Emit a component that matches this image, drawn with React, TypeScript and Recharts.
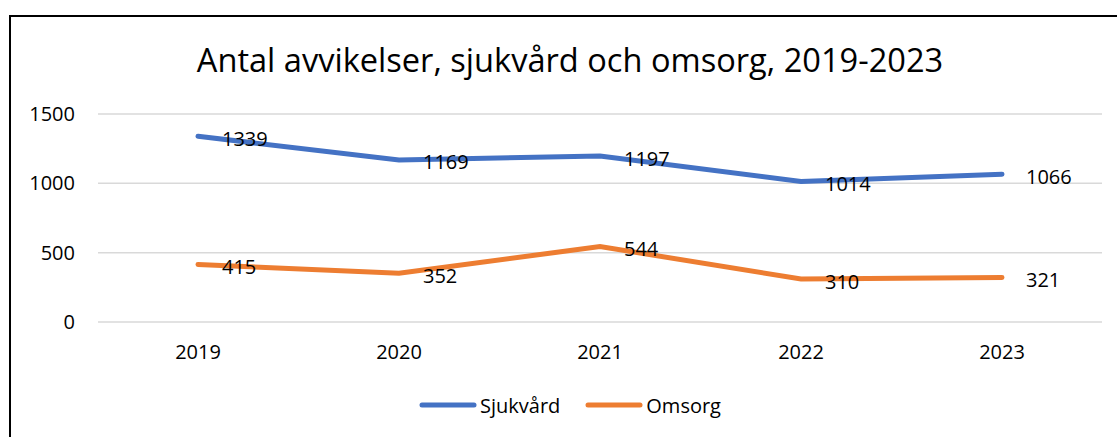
import React from "react"
import { LineChart, Line, XAxis, YAxis, CartesianGrid, Legend, LabelList } from "recharts"

const years = ["2019", "2020", "2021", "2022", "2023"]
const sjukvard = [1339, 1169, 1197, 1014, 1066]
const omsorg = [415, 352, 544, 310, 321]
const yTicks = [0, 500, 1000, 1500]
const seriesOrder = ["Sjukvård", "Omsorg"]

const data = years.map((year, i) => ({
  year,
  Sjukvård: sjukvard[i],
  Omsorg: omsorg[i],
}))

const font = "'Open Sans', 'Noto Sans', sans-serif"

const ValueLabel = (props: any) => {
  const { x, y, value } = props
  return (
    <text x={x + 24} y={y + 2} dominantBaseline="central" textAnchor="start" fontSize={20} fill="#000" fontFamily={font}>
      {value}
    </text>
  )
}

const LegendContent = (props: any) => {
  const items = [...(props.payload || [])].sort(
    (a: any, b: any) => seriesOrder.indexOf(a.value) - seriesOrder.indexOf(b.value)
  )
  return (
    <div style={{ display: "flex", justifyContent: "center", alignItems: "center", height: 30, fontFamily: font, fontSize: 20 }}>
      {items.map((entry: any, i: number) => (
        <div key={entry.value} style={{ display: "flex", alignItems: "center", marginLeft: i ? 25 : 0 }}>
          <svg width={58} height={10} style={{ marginRight: 3 }}>
            <line x1={3} y1={5} x2={55} y2={5} stroke={entry.color} strokeWidth={5} strokeLinecap="round" />
          </svg>
          <span>{entry.value}</span>
        </div>
      ))}
    </div>
  )
}

export default function App() {
  return (
    <div style={{ position: "fixed", left: 0, top: 0, width: 1117, height: 437, background: "#fff", overflow: "hidden" }}>
      <div style={{ position: "absolute", left: 9, top: 15, width: 1140, height: 440, border: "2px solid #000", boxSizing: "border-box" }} />
      <div style={{ position: "absolute", left: 0, top: 37, width: 1140, textAlign: "center", fontFamily: font, fontSize: 32.6, color: "#000" }}>
        Antal avvikelser, sjukvård och omsorg, 2019-2023
      </div>
      <div style={{ position: "absolute", left: 0, top: 0 }}>
        <LineChart width={1117} height={437} data={data} margin={{ top: 114, right: 15, bottom: 45, left: 0 }}>
          <CartesianGrid vertical={false} stroke="#d9d9d9" strokeWidth={1.5} />
          <XAxis
            dataKey="year"
            axisLine={false}
            tickLine={false}
            tickSize={0}
            tickMargin={23}
            height={40}
            tick={{ fontSize: 20, fill: "#000", fontFamily: font }}
            padding={{ left: 100, right: 100 }}
          />
          <YAxis
            domain={[0, 1500]}
            ticks={yTicks}
            axisLine={false}
            tickLine={false}
            tickSize={0}
            tickMargin={23}
            width={98}
            tick={{ fontSize: 20, fill: "#000", fontFamily: font }}
          />
          <Legend content={<LegendContent />} wrapperStyle={{ top: 390, left: 0, width: 1140, height: 30 }} />
          <Line dataKey="Sjukvård" stroke="#4472C4" strokeWidth={5} dot={false} strokeLinecap="round" isAnimationActive={false}>
            <LabelList dataKey="Sjukvård" content={<ValueLabel />} />
          </Line>
          <Line dataKey="Omsorg" stroke="#ED7D31" strokeWidth={5} dot={false} strokeLinecap="round" isAnimationActive={false}>
            <LabelList dataKey="Omsorg" content={<ValueLabel />} />
          </Line>
        </LineChart>
      </div>
    </div>
  )
}
